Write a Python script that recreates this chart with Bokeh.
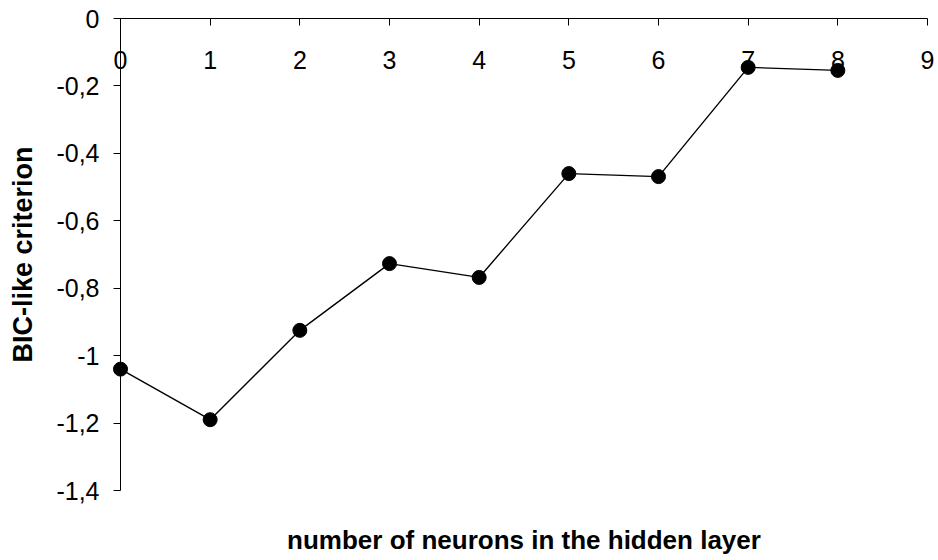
from bokeh.plotting import figure
from bokeh.models import (Range1d, LinearAxis, FixedTicker, CustomJSTickFormatter,
                          ColumnDataSource)
from bokeh.embed import file_html
from bokeh.resources import INLINE

# data
neurons = [0, 1, 2, 3, 4, 5, 6, 7, 8]
bic = [-1.04, -1.19, -0.925, -0.727, -0.768, -0.46, -0.469, -0.145, -0.154]
x_ticks = [0, 1, 2, 3, 4, 5, 6, 7, 8, 9]
y_ticks = [0, -0.2, -0.4, -0.6, -0.8, -1.0, -1.2, -1.4]
x_title = "number of neurons in the hidden layer"
y_title = "BIC-like criterion"

FONT = "Liberation Sans"

p = figure(width=936, height=558, output_backend="svg", toolbar_location=None,
           x_range=Range1d(0, 9.0), y_range=Range1d(-1.4, 0.0),
           x_axis_location=None, y_axis_location=None,
           min_border_left=120, min_border_right=9, min_border_top=18,
           min_border_bottom=68)
p.outline_line_color = None
p.xgrid.visible = False
p.ygrid.visible = False
p.background_fill_color = "white"
p.border_fill_color = "white"

# x axis sits on y = 0 (top of frame), labels hang below it
xaxis = LinearAxis(ticker=FixedTicker(ticks=x_ticks))
xaxis.major_tick_out = 0
xaxis.major_tick_in = 7
xaxis.minor_tick_line_color = None
xaxis.axis_line_color = "black"
xaxis.major_tick_line_color = "black"
xaxis.major_label_text_font = FONT
xaxis.major_label_text_font_size = "25px"
xaxis.major_label_text_color = "black"
xaxis.major_label_standoff = -50
p.add_layout(xaxis, "above")

# x axis title below the frame
xtitle_axis = LinearAxis(ticker=FixedTicker(ticks=[]))
xtitle_axis.axis_line_color = None
xtitle_axis.major_tick_line_color = None
xtitle_axis.minor_tick_line_color = None
xtitle_axis.major_tick_out = 0
xtitle_axis.major_label_standoff = 0
xtitle_axis.axis_label = x_title
xtitle_axis.axis_label_text_font = FONT
xtitle_axis.axis_label_text_font_size = "26px"
xtitle_axis.axis_label_text_font_style = "bold"
xtitle_axis.axis_label_text_color = "black"
xtitle_axis.axis_label_standoff = 34
p.add_layout(xtitle_axis, "below")

yaxis = LinearAxis(ticker=FixedTicker(ticks=y_ticks),
                   formatter=CustomJSTickFormatter(
                       code="return (Math.round(tick*10)/10).toString().replace('.', ',');"))
yaxis.major_tick_out = 7
yaxis.major_tick_in = 0
yaxis.minor_tick_line_color = None
yaxis.axis_line_color = "black"
yaxis.major_tick_line_color = "black"
yaxis.major_label_text_font = FONT
yaxis.major_label_text_font_size = "25px"
yaxis.major_label_text_color = "black"
yaxis.major_label_standoff = 14
yaxis.axis_label = y_title
yaxis.axis_label_text_font = FONT
yaxis.axis_label_text_font_size = "27px"
yaxis.axis_label_text_font_style = "bold"
yaxis.axis_label_text_color = "black"
yaxis.axis_label_standoff = 15
p.add_layout(yaxis, "left")

src = ColumnDataSource(data=dict(x=neurons, y=bic))
p.line("x", "y", source=src, line_color="black", line_width=1.4, level="overlay")
p.scatter("x", "y", source=src, size=14, fill_color="black", line_color="black",
          level="overlay")

open("out.html", "w").write(file_html(p, INLINE))
